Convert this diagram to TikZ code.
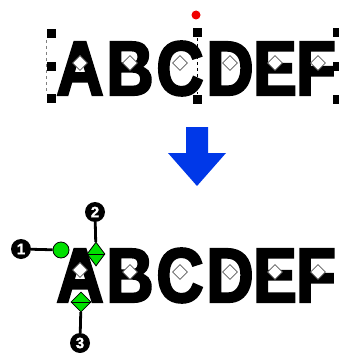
\documentclass[tikz,border=0pt]{standalone}
\usepackage{fontspec}
\newfontfamily\heavyfont{Liberation Sans Bold}[FakeBold=2.8,FakeStretch=0.85]
\newfontfamily\labelfont{Liberation Sans Bold}[FakeBold=1.5]
\usetikzlibrary{shapes.geometric}
\definecolor{handlegreen}{RGB}{0,224,0}
\definecolor{arrowblue}{RGB}{0,56,232}
\definecolor{pivotred}{RGB}{240,0,0}
\tikzstyle{letter} = [inner sep=0, anchor=base, font=\heavyfont\fontsize{77}{77}\selectfont]
\tikzstyle{centermark} = [diamond, draw=gray!70!black, fill=white, line width=0.8pt, minimum width=15, minimum height=15, inner sep=0]
\tikzstyle{sizehandle} = [rectangle, fill=black, minimum size=9, inner sep=0]
\tikzstyle{slanthandle} = [diamond, draw=black, fill=handlegreen, line width=0.8pt, inner sep=0]
\tikzstyle{rothandle} = [circle, draw=black, fill=handlegreen, line width=0.8pt, minimum size=16, inner sep=0]
\tikzstyle{callout} = [circle, fill=black, minimum size=20, inner sep=0, text=white, font=\labelfont\fontsize{15}{15}\selectfont]
\tikzstyle{leader} = [line width=2.8pt]

\begin{document}
\begin{tikzpicture}[x=1pt,y=-1pt]
    \useasboundingbox (0,0) rectangle (338,353);

    % Before: selected text with its frame
    \draw[dashed, black] (197,38) -- (197,94);
    \draw[dashed, gray, thin] (46,40) -- (46,92);

    \node (tA) at (80,95) [letter] {A};
    \node (tB) at (130,95) [letter] {B};
    \node (tC) at (180,95) [letter] {C};
    \node (tD) at (230,95) [letter] {D};
    \node (tE) at (275,95) [letter] {E};
    \node (tF) at (316,95) [letter] {F};

    \node (tmA) at (80,63) [centermark] {};
    \node (tmB) at (130,63) [centermark] {};
    \node (tmC) at (180,63) [centermark] {};
    \node (tmD) at (230,63) [centermark] {};
    \node (tmE) at (275,63) [centermark] {};
    \node (tmF) at (318,63) [centermark] {};

    \node (hNW) at (51.5,33.5) [sizehandle] {};
    \node (hW) at (51.5,66) [sizehandle] {};
    \node (hSW) at (51.5,98.5) [sizehandle] {};
    \node (hN) at (197,33) [sizehandle] {};
    \node (hS) at (197,99) [sizehandle] {};
    \node (hNE) at (337,33) [sizehandle] {};
    \node (hE) at (337,66) [sizehandle] {};
    \node (hSE) at (337,99) [sizehandle] {};

    \node (pivot) at (196,15) [circle, fill=pivotred, minimum size=9, inner sep=0] {};

    % Arrow
    \fill[arrowblue] (186,127) -- (208,127) -- (208,153) -- (226,153) -- (197,186) -- (168,153) -- (186,153) -- cycle;

    % After: one letter selected
    \node (bA) at (80,302) [letter] {A};
    \node (bB) at (130,302) [letter] {B};
    \node (bC) at (180,302) [letter] {C};
    \node (bD) at (230,302) [letter] {D};
    \node (bE) at (275,302) [letter] {E};
    \node (bF) at (316,302) [letter] {F};

    \node (bmA) at (80,270) [centermark] {};
    \node (bmB) at (130,272) [centermark] {};
    \node (bmC) at (180,272) [centermark] {};
    \node (bmD) at (230,272) [centermark] {};
    \node (bmE) at (275,272) [centermark] {};
    \node (bmF) at (318,272) [centermark] {};

    \node (rot) at (61,250) [rothandle] {};
    \node (slant) at (96,254) [slanthandle, minimum width=18, minimum height=24] {};
    \draw (slant.west) -- (slant.east);
    \node (base) at (81,302) [slanthandle, minimum width=20, minimum height=20] {};
    \draw (base.west) -- (base.east);

    % Callouts
    \node (c1) at (21,249) [callout] {1};
    \node (c2) at (95,212) [callout] {2};
    \node (c3) at (80,343) [callout] {3};
    \draw[leader] (c1) -- (rot);
    \draw[leader] (c2) -- (slant);
    \draw[leader] (base) -- (c3);

\end{tikzpicture}
\end{document}
